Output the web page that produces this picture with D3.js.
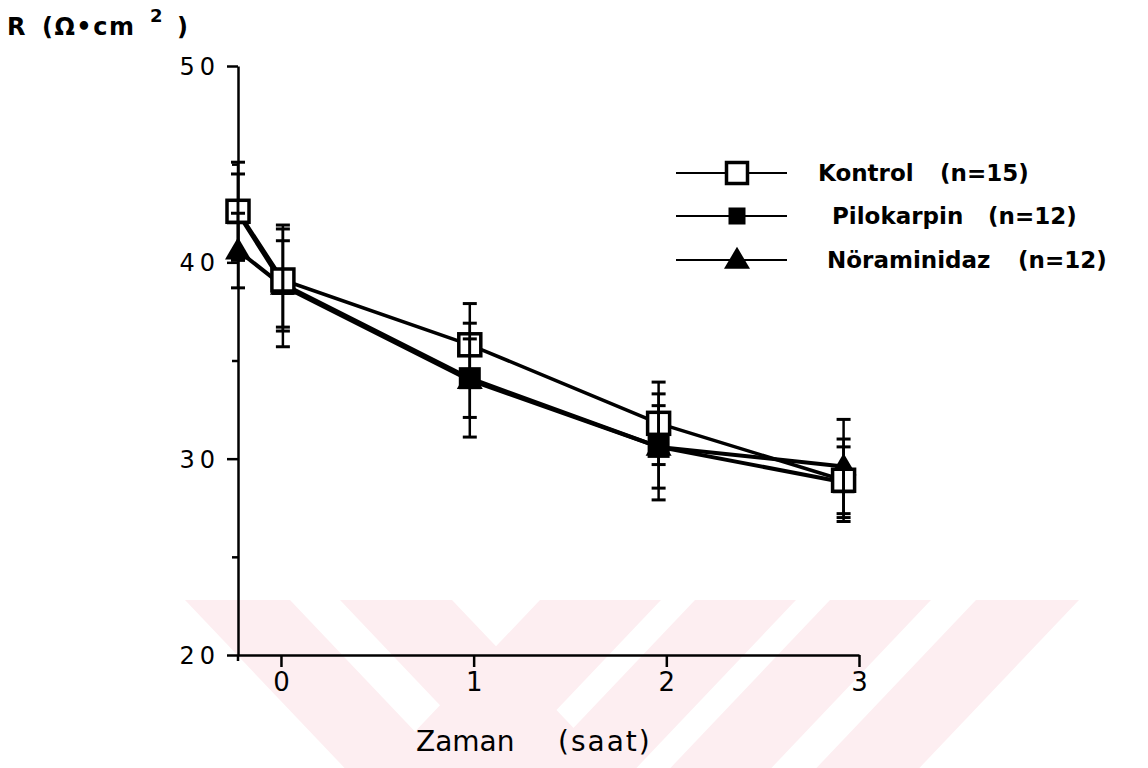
<!doctype html>
<html lang="tr">
<head>
	<meta charset="UTF-8">
	<title>R - Zaman</title>
	<script src="https://d3js.org/d3.v7.min.js"></script>
	<style>
		body { margin: 0; padding: 0; background: #fff; }
		svg { display: block; }
		.axis path, .axis line { stroke: #000; stroke-width: 2.5; }
		.axis text { fill: #000; }
	</style>
</head>
<body>
	<div id="chart"></div>
	<script>
		// ---- data ----
		const times = [-0.223, 0.01, 0.98, 1.96, 2.92];
		const seriesNames = ['Kontrol', 'Pilokarpin', 'Nöraminidaz'];
		const seriesN = ['(n=15)', '(n=12)', '(n=12)'];
		const kontrol = [42.6, 39.1, 35.8, 31.8, 28.9];
		const kontrolErr = [2.5, 2.6, 2.1, 2.1, 2.1];
		const pilokarpin = [42.5, 38.9, 34.1, 30.6, 28.8];
		const pilokarpinErr = [2.0, 2.2, 2.0, 2.7, 1.8];
		const noraminidaz = [40.6, 38.8, 34.0, 30.6, 29.6];
		const noraminidazErr = [1.9, 3.1, 2.9, 2.1, 2.4];
		const xTicks = [0, 1, 2, 3];
		const yTicks = [20, 30, 40, 50];
		const yMinor = [25, 35, 45];

		const width = 1148;
		const height = 768;

		const svg = d3.select('#chart').append('svg')
			.attr('width', width)
			.attr('height', height);

		// faint pink watermark stripes at the bottom
		const wm = svg.append('g').attr('fill', '#fdeef1');
		const wmTop = 600, wmBot = 768, slope = 0.95;
		const down = [[185, 290], [340, 452]];          // "\" stripes
		const up = [[540, 661], [695, 796], [830, 931], [976, 1079]]; // "/" stripes
		down.forEach(s => {
			const dx = (wmBot - wmTop) * slope;
			wm.append('path').attr('d', 'M' + s[0] + ',' + wmTop + 'L' + s[1] + ',' + wmTop +
				'L' + (s[1] + dx) + ',' + wmBot + 'L' + (s[0] + dx) + ',' + wmBot + 'Z');
		});
		up.forEach(s => {
			const dx = (wmBot - wmTop) * slope;
			wm.append('path').attr('d', 'M' + s[0] + ',' + wmTop + 'L' + s[1] + ',' + wmTop +
				'L' + (s[1] - dx) + ',' + wmBot + 'L' + (s[0] - dx) + ',' + wmBot + 'Z');
		});

		// scales
		const x = d3.scaleLinear().domain([-0.223, 3]).range([238, 859]);
		const y = d3.scaleLinear().domain([20, 50]).range([655, 66]);

		// y axis
		const yAxis = svg.append('g')
			.attr('class', 'axis')
			.attr('transform', 'translate(238,0)')
			.call(d3.axisLeft(y).tickValues(yTicks).tickSize(11).tickSizeOuter(0).tickPadding(7));
		yAxis.selectAll('text')
			.attr('font-family', 'DejaVu Sans, sans-serif')
			.attr('font-size', 24)
			.attr('letter-spacing', 5)
			.attr('dy', '0.36em');
		svg.append('g')
			.attr('class', 'axis')
			.attr('transform', 'translate(238,0)')
			.call(d3.axisLeft(y).tickValues(yMinor).tickSize(6).tickFormat(''))
			.select('.domain').remove();
		// y axis runs a bit below the x axis
		svg.append('line')
			.attr('x1', 238).attr('x2', 238)
			.attr('y1', y(20)).attr('y2', y(20) + 6)
			.attr('stroke', '#000').attr('stroke-width', 2.5);

		// x axis
		const xAxis = svg.append('g')
			.attr('class', 'axis')
			.attr('transform', 'translate(0,' + y(20) + ')')
			.call(d3.axisBottom(x).tickValues(xTicks).tickFormat(d3.format('d'))
				.tickSize(12).tickSizeOuter(0).tickPadding(6));
		xAxis.selectAll('text')
			.attr('font-family', 'Liberation Sans Narrow, DejaVu Sans, sans-serif')
			.attr('font-size', 26);

		// axis titles
		const yTitle = svg.append('g')
			.attr('font-family', 'DejaVu Sans, sans-serif')
			.attr('font-weight', 'bold')
			.attr('fill', '#000');
		yTitle.append('text').attr('x', 7).attr('y', 35).attr('font-size', 24).text('R');
		yTitle.append('text').attr('x', 42).attr('y', 35).attr('font-size', 24)
			.attr('letter-spacing', 1.5).text('(Ω•cm');
		yTitle.append('text').attr('x', 150).attr('y', 22).attr('font-size', 18).text('2');
		yTitle.append('text').attr('x', 177).attr('y', 35).attr('font-size', 24).text(')');

		const xTitle = svg.append('g')
			.attr('font-family', 'DejaVu Sans, sans-serif')
			.attr('font-size', 28)
			.attr('fill', '#000');
		xTitle.append('text').attr('x', 416).attr('y', 751).text('Zaman');
		xTitle.append('text').attr('x', 558).attr('y', 751).attr('letter-spacing', 2).text('(saat)');

		// series
		const series = [
			{ name: seriesNames[2], values: noraminidaz, err: noraminidazErr, shape: 'tri', line: 4 },
			{ name: seriesNames[1], values: pilokarpin, err: pilokarpinErr, shape: 'fsq', line: 4 },
			{ name: seriesNames[0], values: kontrol, err: kontrolErr, shape: 'osq', line: 3.5 }
		];

		const line = d3.line()
			.x((d, i) => x(times[i]))
			.y(d => y(d));

		series.forEach(s => {
			svg.append('path')
				.datum(s.values)
				.attr('d', line)
				.attr('fill', 'none')
				.attr('stroke', '#000')
				.attr('stroke-width', s.line)
				.attr('stroke-linejoin', 'round');
		});

		function drawMarker(g, shape, cx, cy, size) {
			if (shape === 'osq') {
				g.append('rect')
					.attr('x', cx - size / 2).attr('y', cy - size / 2)
					.attr('width', size).attr('height', size)
					.attr('fill', '#fff').attr('stroke', '#000').attr('stroke-width', 3.5);
			} else if (shape === 'fsq') {
				g.append('rect')
					.attr('x', cx - size / 2).attr('y', cy - size / 2)
					.attr('width', size).attr('height', size)
					.attr('fill', '#000');
			} else {
				const h = size * 0.85;
				g.append('path')
					.attr('d', 'M' + cx + ',' + (cy - h * 0.6) + 'L' + (cx + size / 2) + ',' + (cy + h * 0.4) +
						'L' + (cx - size / 2) + ',' + (cy + h * 0.4) + 'Z')
					.attr('fill', '#000');
			}
		}

		const markers = svg.append('g');
		series.forEach(s => {
			s.values.forEach((v, i) => {
				drawMarker(markers, s.shape, x(times[i]), y(v), s.shape === 'tri' ? 26 : 22);
			});
		});

		// error bars on top of markers
		const bars = svg.append('g').attr('stroke', '#000');
		series.forEach(s => {
			s.values.forEach((v, i) => {
				const cx = x(times[i]);
				const hi = y(v + s.err[i]);
				const lo = y(v - s.err[i]);
				bars.append('line')
					.attr('x1', cx).attr('x2', cx)
					.attr('y1', hi).attr('y2', lo)
					.attr('stroke-width', 2.5);
				[hi, lo].forEach(yy => {
					bars.append('line')
						.attr('x1', cx - 7).attr('x2', cx + 7)
						.attr('y1', yy).attr('y2', yy)
						.attr('stroke-width', 3);
				});
			});
		});

		// legend
		const legendShapes = ['osq', 'fsq', 'tri'];
		const legendY = [173, 216, 260];
		const legendNameX = [818, 832, 827];
		const legendNX = [940, 988, 1018];
		const legend = svg.append('g');
		seriesNames.forEach((name, i) => {
			legend.append('line')
				.attr('x1', 676).attr('x2', 787)
				.attr('y1', legendY[i]).attr('y2', legendY[i])
				.attr('stroke', '#000').attr('stroke-width', 2);
			const sz = legendShapes[i] === 'osq' ? 21 : legendShapes[i] === 'fsq' ? 17 : 26;
			drawMarker(legend, legendShapes[i], 737, legendY[i], sz);
			legend.append('text')
				.attr('x', legendNameX[i]).attr('y', legendY[i] + 8)
				.attr('font-family', 'DejaVu Sans, sans-serif')
				.attr('font-weight', 'bold')
				.attr('font-size', 23)
				.text(name);
			legend.append('text')
				.attr('x', legendNX[i]).attr('y', legendY[i] + 8)
				.attr('font-family', 'DejaVu Sans, sans-serif')
				.attr('font-weight', 'bold')
				.attr('font-size', 23)
				.text(seriesN[i]);
		});
	</script>
</body>
</html>
